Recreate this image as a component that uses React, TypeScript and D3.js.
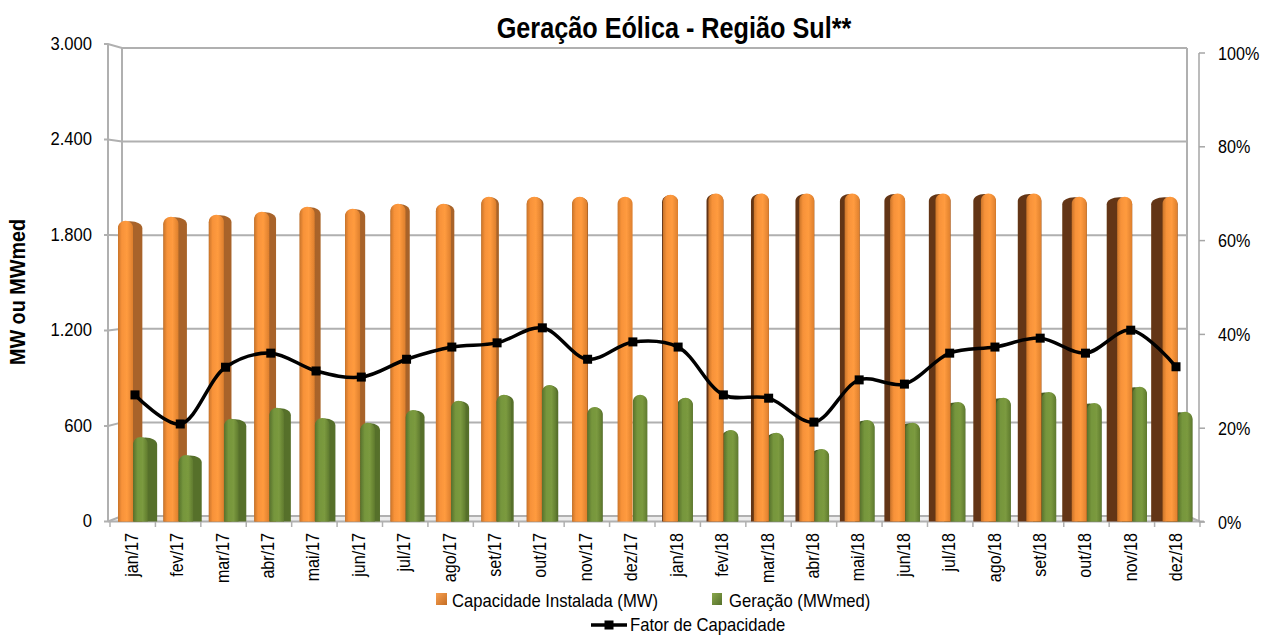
import * as d3 from 'd3';

const months = ['jan/17','fev/17','mar/17','abr/17','mai/17','jun/17','jul/17','ago/17','set/17','out/17','nov/17','dez/17','jan/18','fev/18','mar/18','abr/18','mai/18','jun/18','jul/18','ago/18','set/18','out/18','nov/18','dez/18'];
const capacidade = [1890,1915,1927,1946,1978,1965,1997,1997,2041,2041,2041,2041,2053,2060,2060,2060,2060,2060,2060,2060,2060,2041,2041,2041];
const geracao = [531,418,645,714,651,620,701,758,796,858,720,796,777,575,557,456,638,620,751,777,814,745,846,689];
const fator = [27.1,20.9,33.0,36.0,32.2,30.9,34.7,37.3,38.2,41.4,34.7,38.4,37.3,27.1,26.4,21.3,30.3,29.4,36.0,37.3,39.2,36.0,40.9,33.1];
const leftTicks = [0,600,1200,1800,2400,3000];
const rightTicks = [0,20,40,60,80,100];

const FONT = '"Liberation Sans", Arial, sans-serif';
const GRID = '#b0b0b0';
const NARROW = 0.875; // the original type is a narrow face

const x = d3.scaleBand<string>().domain(months).range([110, 1200]);
const xLine = d3.scalePoint<string>().domain(months).range([135, 1176]);
const yFront = d3.scaleLinear().domain([0, 3000]).range([521.5, 44]);
const yBack = d3.scaleLinear().domain([0, 3000]).range([516, 48]);
const yRight = d3.scaleLinear().domain([0, 100]).range([522, 53]);

const VANISH = 11; // index of the bar seen head on

// bar with a rounded top, as a path
function capBar(x0: number, x1: number, top: number, bottom: number, ry: number) {
  const p = d3.path();
  const rx = (x1 - x0) / 2;
  const k = 0.55;
  p.moveTo(x0, bottom);
  p.lineTo(x0, top + ry);
  p.bezierCurveTo(x0, top + ry * (1 - k), x0 + rx * (1 - k), top, x0 + rx, top);
  p.bezierCurveTo(x0 + rx * (1 + k), top, x1, top + ry * (1 - k), x1, top + ry);
  p.lineTo(x1, bottom);
  p.closePath();
  return p.toString();
}

function Bar({ m, i, value, off, w, grad, left, right }: any) {
  const x0 = (x(m) as number) + off;
  const x1 = x0 + w;
  const top = yFront(value);
  const bottom = yFront(0);
  const side = (VANISH - i) * (i < VANISH ? 0.85 : 0.95);
  const showSide = Math.abs(side) > 0.5;
  return (
    <g>
      {showSide && (
        <path
          d={side > 0
            ? capBar(x0, x1 + side, top + 0.5, bottom, 7)
            : capBar(x0 + side, x1, top + 0.5, bottom, 7)}
          fill={side > 0 ? left : right}
        />
      )}
      <path d={capBar(x0, x1, top, bottom, 7)} fill={`url(#${grad})`} />
    </g>
  );
}

function Narrow({ x: tx, y: ty, anchor, size, sx = NARROW, children }: any) {
  return (
    <text transform={`translate(${tx},${ty}) scale(${sx},1)`} textAnchor={anchor} fontSize={size} fill="#000">
      {children}
    </text>
  );
}

export default function App() {
  const line = d3.line<number>()
    .x((_, i) => xLine(months[i]) as number)
    .y(d => yRight(d))
    .curve(d3.curveCatmullRom.alpha(0.5));

  const drawBars = (i: number, m: string) => {
    const orange = <Bar key="o" m={m} i={i} value={capacidade[i]} off={8} w={15} grad="gOrange" left="#a8642a" right="#643514" />;
    const green = <Bar key="g" m={m} i={i} value={geracao[i]} off={23.3} w={14.5} grad="gGreen" left="#566f2c" right="#465c24" />;
    // past the middle the dark faces look left, so the green goes behind the orange
    return <g key={m}>{i < VANISH ? [orange, green] : [green, orange]}</g>;
  };

  return (
    <svg width={1267} height={635} style={{ position: 'absolute', left: 0, top: 0, background: '#fff' }} fontFamily={FONT}>
      <defs>
        <linearGradient id="gOrange" x1="0" x2="1" y1="0" y2="0">
          <stop offset="0" stopColor="#c9742a" />
          <stop offset="0.25" stopColor="#f79239" />
          <stop offset="0.6" stopColor="#ff9b3f" />
          <stop offset="1" stopColor="#dd7f2d" />
        </linearGradient>
        <linearGradient id="gGreen" x1="0" x2="1" y1="0" y2="0">
          <stop offset="0" stopColor="#58722d" />
          <stop offset="0.3" stopColor="#76963c" />
          <stop offset="0.65" stopColor="#7b9a3f" />
          <stop offset="1" stopColor="#5f7a2e" />
        </linearGradient>
        <linearGradient id="iconO" x1="0" x2="1" y1="0" y2="1">
          <stop offset="0" stopColor="#f9a050" />
          <stop offset="1" stopColor="#c46d24" />
        </linearGradient>
        <linearGradient id="iconG" x1="0" x2="1" y1="0" y2="1">
          <stop offset="0" stopColor="#8aa84c" />
          <stop offset="1" stopColor="#55702b" />
        </linearGradient>
        <filter id="soft" x="-5%" y="-5%" width="110%" height="110%">
          <feGaussianBlur stdDeviation="0.6" />
        </filter>
      </defs>

      <text transform="translate(674,38) scale(0.87,1)" textAnchor="middle" fontSize={29} fontWeight="bold" fill="#000">Geração Eólica - Região Sul**</text>

      {/* walls and floor */}
      <polygon points={`122,${yBack(0)} 1187,${yBack(0)} 1200,${yFront(0)} 108,${yFront(0)}`} fill="#ececec" />
      <g stroke={GRID} strokeWidth={2} fill="none">
        {leftTicks.map(t => (
          <polyline
            key={t}
            points={`${t === 0 ? 108 : 104},${yFront(t)} 108,${yFront(t)} 122,${yBack(t)} 1187,${yBack(t)}`}
          />
        ))}
        <line x1={108} x2={108} y1={yFront(3000)} y2={yFront(0)} />
        <line x1={122} x2={122} y1={yBack(3000)} y2={yBack(0)} />
        <line x1={1187} x2={1187} y1={yBack(3000)} y2={yBack(0)} />
        <line x1={1187} x2={1200} y1={yBack(0)} y2={yFront(0)} />
        <line x1={104} x2={1204} y1={yFront(0)} y2={yFront(0)} />
        {months.map(m => (
          <line key={m} x1={x(m)} x2={x(m)} y1={yFront(0)} y2={527} strokeWidth={1.5} />
        ))}
        <line x1={1200} x2={1200} y1={yFront(0)} y2={527} strokeWidth={1.5} />
      </g>
      <g stroke="#a6a6a6" strokeWidth={1.5} fill="none">
        <line x1={1199} x2={1199} y1={yRight(100)} y2={yRight(0)} />
        {rightTicks.map(t => (
          <line key={t} x1={1199} x2={1205} y1={yRight(t)} y2={yRight(t)} />
        ))}
      </g>

      <g filter="url(#soft)">{months.map((m, i) => drawBars(i, m))}</g>

      <path d={line(fator) as string} fill="none" stroke="#000" strokeWidth={3.5} />
      {fator.map((d, i) => (
        <rect key={months[i]} x={(xLine(months[i]) as number) - 4.5} y={yRight(d) - 4.5} width={9} height={9} fill="#000" />
      ))}

      {/* axis labels */}
      {leftTicks.map(t => (
        <Narrow key={t} x={92} y={yFront(t) + 5.5} anchor="end" size={19}>
          {d3.format(',')(t).replace(',', '.')}
        </Narrow>
      ))}
      {rightTicks.map(t => (
        <Narrow key={t} x={1218} y={yRight(t) + 6.5} size={19} sx={0.85}>{t}%</Narrow>
      ))}
      <text transform="translate(25,292) rotate(-90) scale(0.9,1)" textAnchor="middle" fontSize={22} fontWeight="bold" fill="#000">MW ou MWmed</text>
      {months.map(m => (
        <text
          key={m}
          transform={`translate(${(x(m) as number) + x.bandwidth() / 2 + 5},533) rotate(-90) scale(0.87,1)`}
          textAnchor="end"
          fontSize={18.5}
          fill="#000"
        >
          {m}
        </text>
      ))}

      {/* legend */}
      <rect x={436} y={593} width={11} height={12} fill="url(#iconO)" />
      <Narrow x={452} y={606.5} size={19}>Capacidade Instalada (MW)</Narrow>
      <rect x={712} y={593} width={10} height={12} fill="url(#iconG)" />
      <Narrow x={729} y={606.5} size={19}>Geração (MWmed)</Narrow>
      <line x1={591} x2={627} y1={625} y2={625} stroke="#000" strokeWidth={3.5} />
      <rect x={604.5} y={620.5} width={9} height={9} fill="#000" />
      <Narrow x={630} y={630.5} size={19}>Fator de Capacidade</Narrow>
    </svg>
  );
}
